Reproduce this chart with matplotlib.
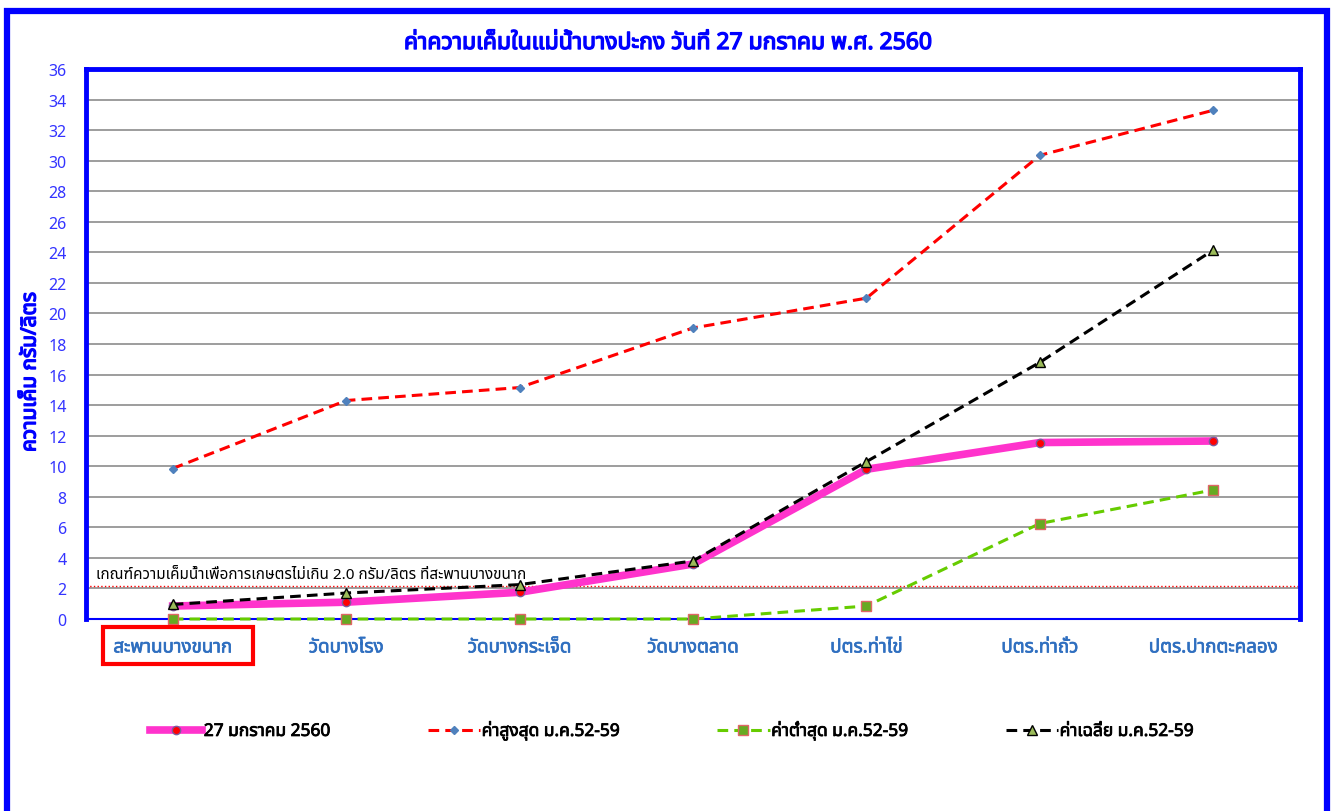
import matplotlib
matplotlib.use("Agg")
import matplotlib.pyplot as plt
import matplotlib.patheffects as pe
from matplotlib import font_manager
from matplotlib.ft2font import FT2Font
from matplotlib.patches import Rectangle


# pick a font that has Thai glyphs, if there is one
def find_thai_font():
    preferred = ['Tahoma', 'Noto Sans Thai', 'Noto Sans Thai UI', 'Loma', 'Garuda',
                 'Sarabun', 'Tlwg Typo', 'Norasi', 'Kinnari']
    found = []
    for f in font_manager.fontManager.ttflist:
        try:
            if 0x0E01 in FT2Font(f.fname).get_charmap():
                found.append(f.name)
        except Exception:
            pass
    for p in preferred:
        if p in found:
            return p
    return found[0] if found else None


thai = find_thai_font()
families = ([thai] if thai else []) + ['DejaVu Sans']
plt.rcParams['font.family'] = families

# data
stations = ['สะพานบางขนาก', 'วัดบางโรง', 'วัดบางกระเจ็ด', 'วัดบางตลาด',
            'ปตร.ท่าไข่', 'ปตร.ท่าถั่ว', 'ปตร.ปากตะคลอง']
today = [0.85, 1.1, 1.75, 3.6, 9.8, 11.55, 11.65]
max_5259 = [9.85, 14.3, 15.15, 19.05, 21.0, 30.35, 33.3]
min_5259 = [0.0, 0.0, 0.0, 0.0, 0.85, 6.25, 8.45]
avg_5259 = [0.95, 1.7, 2.25, 3.8, 10.3, 16.8, 24.15]
limit = 2.15
yticks = list(range(0, 37, 2))

title = 'ค่าความเค็มในแม่น้ำบางปะกง วันที่ 27 มกราคม พ.ศ. 2560'
ylabel = 'ความเค็ม กรัม/ลิตร'
note = 'เกณฑ์ความเค็มน้ำเพื่อการเกษตรไม่เกิน 2.0 กรัม/ลิตร ที่สะพานบางขนาก'
labels = ['27 มกราคม 2560', 'ค่าสูงสุด ม.ค.52-59', 'ค่าต่ำสุด ม.ค.52-59', 'ค่าเฉลี่ย ม.ค.52-59']

W, H = 1334, 812
fig = plt.figure(figsize=(W / 100, H / 100), dpi=100)


def bold(color, w=0.9):
    # fake bold for fonts without a bold face
    return [pe.withStroke(linewidth=w, foreground=color)]


# outer blue frame
fig.patches.append(Rectangle((7 / W, -0.05), 1320 / W, 1.05 - 12 / H, transform=fig.transFigure,
                             fill=False, edgecolor='#0000FF', linewidth=4.5))

ax = fig.add_axes([86 / W, 1 - 620 / H, 1214 / W, 550 / H])
x = list(range(len(stations)))

ax.axhline(limit, color='red', linestyle=':', linewidth=1, zorder=2)

ax.plot(x, today, color='#FF33CC', linewidth=5.5, marker='o', markersize=6,
        markerfacecolor='red', markeredgecolor='#7A5C9E', label=labels[0], zorder=5, clip_on=False)
ax.plot(x, max_5259, color='#FF0000', linewidth=2.2, linestyle=(0, (3.5, 2)), marker='D',
        markersize=4.5, markerfacecolor='#4F81BD', markeredgecolor='#4F81BD',
        label=labels[1], zorder=4, clip_on=False)
ax.plot(x, min_5259, color='#66CC00', linewidth=2.2, linestyle=(0, (3.5, 2)), marker='s',
        markersize=7, markerfacecolor='#66AA22', markeredgecolor='#E06666',
        label=labels[2], zorder=4, clip_on=False)
ax.plot(x, avg_5259, color='black', linewidth=2.2, linestyle=(0, (3.5, 2)), marker='^',
        markersize=7, markerfacecolor='#9BBB59', markeredgecolor='black',
        label=labels[3], zorder=6, clip_on=False)

ax.set_xlim(-0.5, len(stations) - 0.5)
ax.set_ylim(0, 36)
ax.set_yticks(yticks)
ax.set_xticks(x)
ax.set_xticklabels(stations)
ax.yaxis.grid(True, color='#8C8C8C', linewidth=1.2)
ax.set_axisbelow(True)
ax.tick_params(axis='y', labelsize=11.5, length=0, pad=14)
ax.tick_params(axis='x', labelsize=13.5, length=0, pad=14)
for lab in ax.get_yticklabels():
    lab.set_color('#3333FF')
for lab in ax.get_xticklabels():
    lab.set_color('#2F6FC0')
    lab.set_path_effects(bold('#2F6FC0', 0.5))
for s in ['left', 'top', 'right']:
    ax.spines[s].set_color('#0000FF')
    ax.spines[s].set_linewidth(3.5)
ax.spines['bottom'].set_color('#0000FF')
ax.spines['bottom'].set_linewidth(1.5)

# red box around first station label
fig.patches.append(Rectangle((103 / W, 1 - 665 / H), 150 / W, 37 / H, transform=fig.transFigure,
                             fill=False, edgecolor='#FF0000', linewidth=3))

ax.text(-0.44, limit + 0.25, note, fontsize=11, color='black', va='bottom', ha='left')

fig.text(668 / W, 1 - 44 / H, title, ha='center', va='center', fontsize=16.5,
         color='#0000FF', path_effects=bold('#0000FF', 1.0))
fig.text(30 / W, 1 - 373 / H, ylabel, ha='center', va='center', rotation=90,
         fontsize=15, color='#0000FF', path_effects=bold('#0000FF', 1.0))

leg = fig.legend(loc='center', bbox_to_anchor=(672 / W, 1 - 732 / H), ncol=4, frameon=False,
                 fontsize=12.5, handlelength=3.0, handletextpad=0.1, columnspacing=5.6)
for t in leg.get_texts():
    t.set_path_effects(bold('black', 0.6))

fig.savefig('out.png', dpi=100)
